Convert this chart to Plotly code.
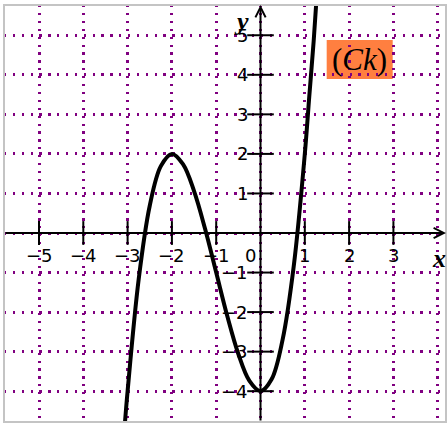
import plotly.graph_objects as go

# ---- data ----
curve_x = [-3.06, -3.0, -2.75, -2.5, -2.25, -2.0, -1.75, -1.5, -1.25, -1.0,
           -0.75, -0.5, -0.25, 0.0, 0.25, 0.5, 0.75, 1.0, 1.1, 1.2, 1.26]
curve_y = [-4.8, -4.0, -1.17, 0.69, 1.69, 2.0, 1.74, 1.06, 0.1, -1.0,
           -2.1, -3.06, -3.74, -4.0, -3.7, -2.69, -0.84, 2.0, 3.44, 4.85, 5.85]

x_ticks = [-5, -4, -3, -2, -1, 1, 2, 3]
x_tick_labels = ["−5", "−4", "−3", "−2", "−1", "1", "2", "3"]
y_ticks = [-4, -3, -2, -1, 1, 2, 3, 4, 5]
y_tick_labels = ["−4", "−3", "−2", "−1", "1", "2", "3", "4", "5"]
grid_x = [-5, -4, -3, -2, -1, 0, 1, 2, 3, 4]
grid_y = [-4, -3, -2, -1, 0, 1, 2, 3, 4, 5]
curve_name = "(<i>Ck</i>)"

XR = [-5.79, 4.187]
YR = [-4.779, 5.765]
PURPLE = "#800080"
NUMFONT = dict(family="DejaVu Sans", size=18, color="black")

fig = go.Figure()

# tick crosses
fig.add_trace(go.Scatter(x=x_ticks, y=[0] * len(x_ticks), mode="markers",
                         marker=dict(symbol="line-ns-open", size=17, color="black",
                                     line=dict(color="black", width=2)),
                         hoverinfo="skip", cliponaxis=False))
fig.add_trace(go.Scatter(x=[0] * len(y_ticks), y=y_ticks, mode="markers",
                         marker=dict(symbol="line-ew-open", size=19, color="black",
                                     line=dict(color="black", width=2)),
                         hoverinfo="skip", cliponaxis=False))

# curve
fig.add_trace(go.Scatter(x=curve_x, y=curve_y, mode="lines",
                         line=dict(color="black", width=4, shape="spline",
                                   smoothing=1.0),
                         hoverinfo="skip"))

annotations = []
# axes with arrows
annotations.append(dict(x=XR[1], y=0, ax=XR[0], ay=0, xref="x", yref="y",
                        axref="x", ayref="y", text="", showarrow=True,
                        arrowhead=5, arrowsize=1, arrowwidth=2, arrowcolor="black",
                        standoff=0, startstandoff=0))
annotations.append(dict(x=0, y=YR[1], ax=0, ay=YR[0], xref="x", yref="y",
                        axref="x", ayref="y", text="", showarrow=True,
                        arrowhead=5, arrowsize=1, arrowwidth=2, arrowcolor="black",
                        standoff=0, startstandoff=0))
# tick labels
for v, t in zip(x_ticks, x_tick_labels):
    annotations.append(dict(x=v, y=0, xref="x", yref="y", text=t, showarrow=False,
                            font=NUMFONT, xanchor="center", yanchor="middle",
                            yshift=-22))
annotations.append(dict(x=0, y=0, xref="x", yref="y", text="0", showarrow=False,
                        font=NUMFONT, xanchor="center", yanchor="middle",
                        xshift=-10, yshift=-22))
for v, t in zip(y_ticks, y_tick_labels):
    annotations.append(dict(x=0, y=v, xref="x", yref="y", text=t, showarrow=False,
                            font=NUMFONT, xanchor="right", yanchor="middle",
                            xshift=-11))
# axis titles
annotations.append(dict(x=XR[1], y=0, xref="x", yref="y", text="<b><i>x</i></b>",
                        showarrow=False, xanchor="center", yanchor="middle",
                        xshift=-7, yshift=-25,
                        font=dict(family="Liberation Serif", size=26, color="black")))
annotations.append(dict(x=0, y=YR[1], xref="x", yref="y", text="<b><i>y</i></b>",
                        showarrow=False, xanchor="center", yanchor="middle",
                        xshift=-19, yshift=-16,
                        font=dict(family="Liberation Serif", size=26, color="black")))
# curve name label
annotations.append(dict(x=2.24, y=4.39, xref="x", yref="y", text=curve_name,
                        showarrow=False, xanchor="center", yanchor="middle",
                        font=dict(family="Liberation Serif", size=31, color="black")))

shapes = [
    dict(type="rect", xref="x", yref="y", x0=1.494, x1=2.984, y0=3.894, y1=4.880,
         fillcolor="#FF7F40", line=dict(width=0), layer="below"),
    dict(type="rect", xref="paper", yref="paper", x0=0, x1=1, y0=0, y1=1,
         line=dict(color="#c4c4c4", width=2), layer="above"),
]

fig.update_layout(
    width=448, height=425, autosize=False,
    margin=dict(l=4, r=2, t=5, b=3),
    paper_bgcolor="white", plot_bgcolor="white",
    showlegend=False,
    annotations=annotations, shapes=shapes,
    xaxis=dict(range=XR, tickmode="array", tickvals=grid_x, showticklabels=False,
               ticks="", showgrid=True, gridcolor=PURPLE, gridwidth=2.6,
               griddash="2.2px,5.7px",
               zeroline=False, showline=False, fixedrange=True),
    yaxis=dict(range=YR, tickmode="array", tickvals=grid_y, showticklabels=False,
               ticks="", showgrid=True, gridcolor=PURPLE, gridwidth=2.6,
               griddash="2.2px,6.66px",
               zeroline=False, showline=False, fixedrange=True),
)

fig.write_html("out.html", config={"displayModeBar": False},
               post_script="document.body.style.margin='0px';document.body.style.overflow='hidden';")
